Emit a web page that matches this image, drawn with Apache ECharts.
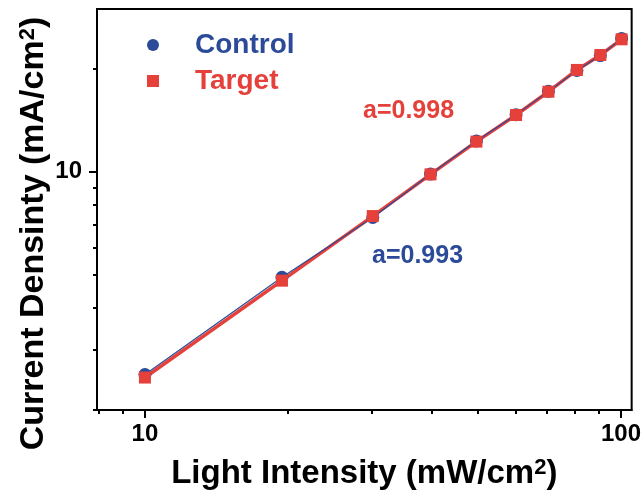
<!DOCTYPE html>
<html>
<head>
<meta charset="utf-8">
<script src="https://cdn.jsdelivr.net/npm/echarts@6/dist/echarts.min.js"></script>
<style>
  html, body { margin: 0; padding: 0; background: #fff; }
  #chart { width: 644px; height: 499px; }
</style>
</head>
<body>
<div id="chart"></div>
<script>
// Light intensity (mW/cm2) and current density (mA/cm2) for both devices
const intensity = [10, 19.4, 30.1, 39.8, 49.7, 60.2, 70.4, 80.8, 90.5, 100.3];
const controlJ  = [2.54, 4.90, 7.34, 9.84, 12.3, 14.7, 17.2, 19.8, 21.9, 24.6];
const targetJ   = [2.49, 4.79, 7.41, 9.82, 12.25, 14.66, 17.16, 19.88, 21.99, 24.45];

// Tick positions on the log axes
const xMajorTicks = [10, 100];
const xMinorTicks = [8, 9, 20, 30, 40, 50, 60, 70, 80, 90];
const yMajorTicks = [10];
const yMinorTicks = [2, 3, 4, 5, 6, 7, 8, 9, 20];

// Fitted slopes of log(J) vs log(P)
const slopeTarget = 'a=0.998';
const slopeControl = 'a=0.993';

const FONT = '"Liberation Sans", Arial, sans-serif';
const BLUE = '#2b4a97';
const RED = '#e5403a';
const BLACK = '#000';

const pairs = (xs, ys) => xs.map((x, i) => [x, ys[i]]);
const axisLineStyle = { color: BLACK, width: 2 };
const supRich = { sup: { fontSize: 22, fontWeight: 'bold', fontFamily: FONT, color: BLACK, verticalAlign: 'top' } };

const xRange = { min: 7.93, max: 105.3 };
const yRange = { min: 2, max: 30 };

const chart = echarts.init(document.getElementById('chart'), null, { renderer: 'canvas' });

chart.setOption({
  animation: false,
  backgroundColor: '#fff',
  grid: { left: 97, right: 12, top: 9, bottom: 89, show: true, borderColor: BLACK, borderWidth: 2 },
  legend: {
    orient: 'vertical',
    left: 147,
    top: 30,
    padding: 0,
    itemWidth: 12,
    itemHeight: 12,
    itemGap: 6,
    selectedMode: false,
    data: [
      { name: 'Control', icon: 'circle', itemStyle: { opacity: 1 }, textStyle: { color: BLUE } },
      { name: 'Target', icon: 'rect', itemStyle: { opacity: 1 }, textStyle: { color: RED } }
    ],
    textStyle: { fontSize: 28, fontWeight: 'bold', fontFamily: FONT, lineHeight: 30, padding: [0, 0, 0, 31] }
  },
  xAxis: [
    {
      type: 'log', logBase: 10, ...xRange, position: 'bottom',
      axisLine: { show: true, lineStyle: axisLineStyle },
      axisTick: { show: true, customValues: xMajorTicks, length: 8, lineStyle: axisLineStyle },
      axisLabel: { customValues: xMajorTicks, fontSize: 24, fontWeight: 'bold', fontFamily: FONT, color: BLACK, margin: 12 },
      splitLine: { show: false },
      name: 'Light Intensity (mW/cm{sup|2})',
      nameLocation: 'middle',
      nameGap: 47,
      nameMoveOverlap: false,
      nameTextStyle: { fontSize: 33, fontWeight: 'bold', fontFamily: FONT, color: BLACK, rich: supRich }
    },
    {
      type: 'log', logBase: 10, ...xRange, position: 'bottom',
      axisLine: { show: false },
      axisTick: { show: true, customValues: xMinorTicks, length: 4, lineStyle: axisLineStyle },
      axisLabel: { show: false },
      splitLine: { show: false }
    }
  ],
  yAxis: [
    {
      type: 'log', logBase: 10, ...yRange, position: 'left',
      axisLine: { show: true, lineStyle: axisLineStyle },
      axisTick: { show: true, customValues: yMajorTicks, length: 8, lineStyle: axisLineStyle },
      axisLabel: { customValues: yMajorTicks, fontSize: 24, fontWeight: 'bold', fontFamily: FONT, color: BLACK, margin: 15 },
      splitLine: { show: false },
      name: 'Current Densinty (mA/cm{sup|2})',
      nameLocation: 'middle',
      nameGap: 46,
      nameMoveOverlap: false,
      nameTextStyle: { fontSize: 34, fontWeight: 'bold', fontFamily: FONT, color: BLACK, padding: [0, 48, 0, 0], rich: supRich }
    },
    {
      type: 'log', logBase: 10, ...yRange, position: 'left',
      axisLine: { show: false },
      axisTick: { show: true, customValues: yMinorTicks, length: 4, lineStyle: axisLineStyle },
      axisLabel: { show: false },
      splitLine: { show: false }
    }
  ],
  series: [
    {
      name: 'Target fit', type: 'line', data: pairs(intensity, targetJ),
      showSymbol: false, symbol: 'none', z: 2,
      lineStyle: { color: RED, width: 3.5, opacity: 1 }
    },
    {
      name: 'Control fit', type: 'line', data: pairs(intensity, controlJ),
      showSymbol: false, symbol: 'none', z: 3,
      lineStyle: { color: BLUE, width: 1.2, opacity: 1 }
    },
    {
      name: 'Control', type: 'scatter', data: pairs(intensity, controlJ),
      symbol: 'circle', symbolSize: 13, z: 4,
      itemStyle: { color: BLUE, opacity: 1 }
    },
    {
      name: 'Target', type: 'scatter', data: pairs(intensity, targetJ),
      symbol: 'rect', symbolSize: 12, z: 5,
      itemStyle: { color: RED, opacity: 1 }
    }
  ],
  graphic: [
    { type: 'text', x: 363, y: 111, style: { text: slopeTarget, fill: RED, font: 'bold 25px ' + FONT, verticalAlign: 'middle' } },
    { type: 'text', x: 372, y: 256, style: { text: slopeControl, fill: BLUE, font: 'bold 25px ' + FONT, verticalAlign: 'middle' } }
  ]
});
</script>
</body>
</html>
